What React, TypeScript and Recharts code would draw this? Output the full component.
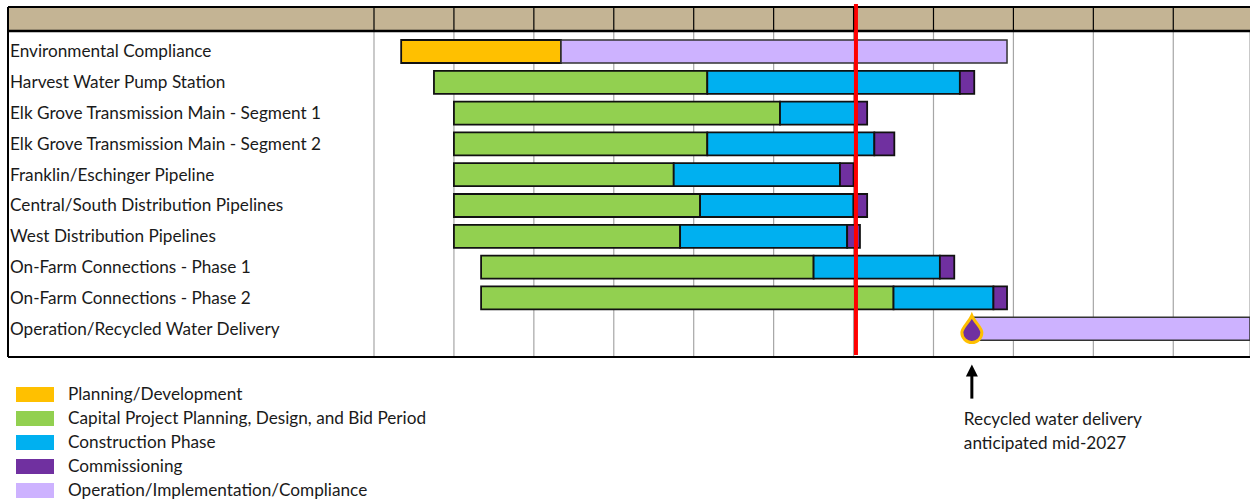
import { Bar, BarChart, CartesianGrid, Legend, ReferenceDot, ReferenceLine, XAxis, YAxis } from "recharts";

// Time axis is in calendar years; the original header cells carry no labels
const yearTicks = [2020, 2021, 2022, 2023, 2024, 2025, 2026, 2027, 2028, 2029, 2030];
const today = 2026.03;
const deliveryDate = 2027.48;

const projects = [
    "Environmental Compliance",
    "Harvest Water Pump Station",
    "Elk Grove Transmission Main - Segment 1",
    "Elk Grove Transmission Main - Segment 2",
    "Franklin/Eschinger Pipeline",
    "Central/South Distribution Pipelines",
    "West Distribution Pipelines",
    "On-Farm Connections - Phase 1",
    "On-Farm Connections - Phase 2",
    "Operation/Recycled Water Delivery",
];

// Start year of each row, then the years spent in each phase
const startYears = [2020.34, 2020.75, 2021, 2021, 2021, 2021, 2021, 2021.34, 2021.34, 2027.5];
const planningYears = [2, 0, 0, 0, 0, 0, 0, 0, 0, 0];
const designYears = [0, 3.42, 4.08, 3.17, 2.75, 3.08, 2.83, 4.16, 5.16, 0];
const constructionYears = [0, 3.16, 0.95, 2.09, 2.08, 1.92, 2.09, 1.58, 1.25, 0];
const commissioningYears = [0, 0.18, 0.14, 0.25, 0.17, 0.17, 0.16, 0.18, 0.17, 0];
const operationYears = [5.58, 0, 0, 0, 0, 0, 0, 0, 0, 3.6];

const data = projects.map((name, i) => ({
    name,
    start: startYears[i],
    planning: planningYears[i],
    design: designYears[i],
    construction: constructionYears[i],
    commissioning: commissioningYears[i],
    operation: operationYears[i],
}));

const FONT = "Lato, sans-serif";
const FONT_SIZE = 17.2;
const TEXT_COLOR = "#1a1a1a";

function ProjectTick({ y, payload }: any) {
    return (
        <text x={10} y={y} dy={6} fontFamily={FONT} fontSize={FONT_SIZE} fill={TEXT_COLOR}>
            {payload.value}
        </text>
    );
}

function LegendRows({ payload }: any) {
    // the invisible offset series stays out of the key
    const rows = (payload || []).filter((item: any) => item.dataKey !== "start");
    return (
        <div style={{ fontFamily: FONT, fontSize: FONT_SIZE, lineHeight: "20px", color: TEXT_COLOR }}>
            {rows.map((item: any) => (
                <div key={item.value} style={{ display: "flex", alignItems: "center", height: 24 }}>
                    <span style={{ width: 38, height: 15, background: item.color, marginRight: 14 }} />
                    {item.value}
                </div>
            ))}
        </div>
    );
}

// Drop marker with the arrow and note hanging below it
function DeliveryMarker({ cx, cy }: any) {
    return (
        <g>
            <path
                d={`M${cx} ${cy - 13} C${cx + 3} ${cy - 6} ${cx + 10} ${cy - 1} ${cx + 10} ${cy + 4} A10 10 0 0 1 ${cx - 10} ${cy + 4} C${cx - 10} ${cy - 1} ${cx - 3} ${cy - 6} ${cx} ${cy - 13} Z`}
                fill="#7030A0"
                stroke="#FFC000"
                strokeWidth={3}
            />
            <line x1={cx} y1={cy + 70} x2={cx} y2={cy + 46} stroke="#000" strokeWidth={3} />
            <path d={`M${cx} ${cy + 36} L${cx + 6} ${cy + 48} L${cx - 6} ${cy + 48} Z`} fill="#000" />
            <text x={cx - 8} y={cy + 96} fontFamily={FONT} fontSize={FONT_SIZE} fill={TEXT_COLOR}>Recycled water delivery</text>
            <text x={cx - 8} y={cy + 120} fontFamily={FONT} fontSize={FONT_SIZE} fill={TEXT_COLOR}>anticipated mid-2027</text>
        </g>
    );
}

function TodayLine({ x1, y1, y2 }: any) {
    return <line x1={x1} y1={y1 - 27} x2={x1} y2={y2 - 2} stroke="#FF0000" strokeWidth={4} />;
}

export default function App() {
    return (
        <div style={{ position: "absolute", left: 0, top: 0, width: 1250, height: 502 }}>
            <BarChart
                width={1250}
                height={502}
                layout="vertical"
                data={data}
                barSize={23}
                margin={{ top: 7, right: 0, bottom: 145, left: 8 }}
            >
                <rect x={8} y={7} width={1242} height={24} fill="#C4B494" />
                <CartesianGrid vertical horizontal={false} stroke="#a6a6a6" strokeWidth={1.2} />
                <XAxis
                    type="number"
                    orientation="top"
                    height={24}
                    domain={[2020, 2030.96]}
                    allowDataOverflow
                    ticks={yearTicks}
                    tickSize={24}
                    tickFormatter={() => ""}
                    tickLine={{ stroke: "#000", strokeWidth: 1.2 }}
                    axisLine={false}
                />
                <YAxis
                    type="category"
                    dataKey="name"
                    width={366}
                    padding={{ top: 5, bottom: 13 }}
                    interval={0}
                    tick={ProjectTick}
                    tickLine={false}
                    axisLine={false}
                />
                <Legend
                    layout="horizontal"
                    align="center"
                    verticalAlign="middle"
                    itemSorter={null}
                    content={LegendRows}
                    wrapperStyle={{ position: "absolute", left: 16, top: 382, width: 500 }}
                />
                <Bar dataKey="start" stackId="gantt" fill="transparent" legendType="none" isAnimationActive={false} />
                <Bar dataKey="planning" name="Planning/Development" stackId="gantt" fill="#FFC000" stroke="#111" strokeWidth={1.8} isAnimationActive={false} />
                <Bar dataKey="design" name="Capital Project Planning, Design, and Bid Period" stackId="gantt" fill="#92D050" stroke="#111" strokeWidth={1.8} isAnimationActive={false} />
                <Bar dataKey="construction" name="Construction Phase" stackId="gantt" fill="#00B0F0" stroke="#111" strokeWidth={1.8} isAnimationActive={false} />
                <Bar dataKey="commissioning" name="Commissioning" stackId="gantt" fill="#7030A0" stroke="#111" strokeWidth={1.8} isAnimationActive={false} />
                <Bar dataKey="operation" name="Operation/Implementation/Compliance" stackId="gantt" fill="#CDB2FF" stroke="#333" strokeWidth={1.5} isAnimationActive={false} />
                <ReferenceLine x={today} shape={TodayLine} />
                <ReferenceDot x={deliveryDate} y={projects[9]} shape={DeliveryMarker} />
                <line x1={8} y1={7} x2={1250} y2={7} stroke="#000" strokeWidth={2} />
                <line x1={8} y1={31} x2={1250} y2={31} stroke="#000" strokeWidth={2.5} />
                <line x1={8} y1={7} x2={8} y2={357} stroke="#000" strokeWidth={2} />
                <line x1={8} y1={357} x2={1250} y2={357} stroke="#000" strokeWidth={2} />
            </BarChart>
        </div>
    );
}
